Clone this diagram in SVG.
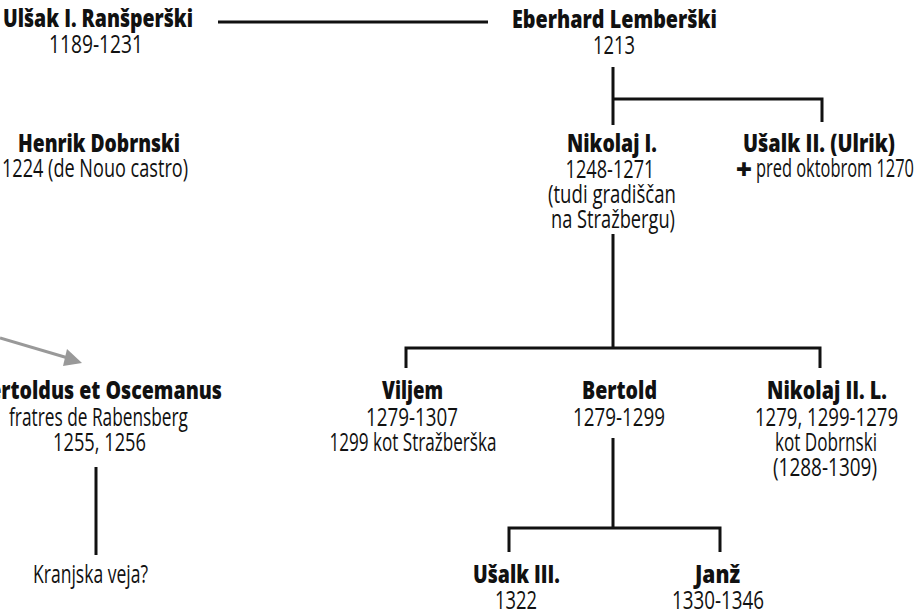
<svg xmlns="http://www.w3.org/2000/svg" width="920" height="614" viewBox="0 0 920 614">
<style>
text{font-family:"Open Sans","Liberation Sans",sans-serif;fill:#111;text-anchor:middle;font-size:25px}
.b{font-weight:800}
.ln{stroke:#111;stroke-width:3;fill:none}
.ar{stroke:#999;stroke-width:3;fill:none}
</style>
<rect width="920" height="614" fill="#fff"/>
<g id="connectors">
<line class="ln" x1="218" y1="22" x2="488" y2="22"/>
<path class="ln" d="M613 67V125M613 99H822V122"/>
<path class="ln" d="M613 234V348M406 368V348H820V368"/>
<path class="ln" d="M613 438V528M509 552V528H720V552"/>
<line class="ln" x1="96" y1="467" x2="96" y2="555"/>
<line class="ar" x1="0" y1="338" x2="68" y2="358"/>
<polygon points="82,363 67,349 63,366" fill="#999"/>
</g>
<g id="ulsak1"><text><tspan class="b" x="98" y="27" textLength="190" lengthAdjust="spacingAndGlyphs">Ulšak I. Ranšperški</tspan><tspan x="96" y="53" textLength="94" lengthAdjust="spacingAndGlyphs">1189-1231</tspan></text></g>
<g id="eberhard"><text><tspan class="b" x="614.5" y="28" textLength="205" lengthAdjust="spacingAndGlyphs">Eberhard Lemberški</tspan><tspan x="614" y="54" textLength="42" lengthAdjust="spacingAndGlyphs">1213</tspan></text></g>
<g id="henrik"><text><tspan class="b" x="99" y="152" textLength="162" lengthAdjust="spacingAndGlyphs">Henrik Dobrnski</tspan><tspan x="95" y="177" textLength="186" lengthAdjust="spacingAndGlyphs">1224 (de Nouo castro)</tspan></text></g>
<g id="nikolaj1"><text><tspan class="b" x="612" y="152" textLength="90" lengthAdjust="spacingAndGlyphs">Nikolaj I.</tspan><tspan x="610" y="178" textLength="89" lengthAdjust="spacingAndGlyphs">1248-1271</tspan><tspan x="612" y="203" textLength="128" lengthAdjust="spacingAndGlyphs">(tudi gradiščan</tspan><tspan x="613" y="228" textLength="124" lengthAdjust="spacingAndGlyphs">na Stražbergu)</tspan></text></g>
<g id="usalk2"><text><tspan class="b" x="819" y="152" textLength="152" lengthAdjust="spacingAndGlyphs">Ušalk II. (Ulrik)</tspan><tspan class="b" x="744" y="179" style="font-size:28px">+</tspan><tspan x="835" y="177" textLength="158" lengthAdjust="spacingAndGlyphs">pred oktobrom 1270</tspan></text></g>
<g id="bertoldus"><text><tspan class="b" x="99" y="399" textLength="246" lengthAdjust="spacingAndGlyphs">Bertoldus et Oscemanus</tspan><tspan x="98.5" y="426" textLength="179" lengthAdjust="spacingAndGlyphs">fratres de Rabensberg</tspan><tspan x="99.5" y="451" textLength="93" lengthAdjust="spacingAndGlyphs">1255, 1256</tspan></text></g>
<g id="kranjska"><text x="90.5" y="583" textLength="115" lengthAdjust="spacingAndGlyphs">Kranjska veja?</text></g>
<g id="viljem"><text><tspan class="b" x="412.5" y="399" textLength="61" lengthAdjust="spacingAndGlyphs">Viljem</tspan><tspan x="412" y="426" textLength="92" lengthAdjust="spacingAndGlyphs">1279-1307</tspan><tspan x="413" y="451" textLength="167" lengthAdjust="spacingAndGlyphs">1299 kot Stražberška</tspan></text></g>
<g id="bertold"><text><tspan class="b" x="619.5" y="399" textLength="75" lengthAdjust="spacingAndGlyphs">Bertold</tspan><tspan x="619" y="426" textLength="92" lengthAdjust="spacingAndGlyphs">1279-1299</tspan></text></g>
<g id="nikolaj2"><text><tspan class="b" x="827" y="399" textLength="120" lengthAdjust="spacingAndGlyphs">Nikolaj II. L.</tspan><tspan x="826.5" y="426" textLength="143" lengthAdjust="spacingAndGlyphs">1279, 1299-1279</tspan><tspan x="826" y="451" textLength="102" lengthAdjust="spacingAndGlyphs">kot Dobrnski</tspan><tspan x="825" y="476" textLength="104" lengthAdjust="spacingAndGlyphs">(1288-1309)</tspan></text></g>
<g id="usalk3"><text><tspan class="b" x="516.5" y="583" textLength="87" lengthAdjust="spacingAndGlyphs">Ušalk III.</tspan><tspan x="516" y="609" textLength="42" lengthAdjust="spacingAndGlyphs">1322</tspan></text></g>
<g id="janz"><text><tspan class="b" x="717.5" y="583" textLength="45" lengthAdjust="spacingAndGlyphs">Janž</tspan><tspan x="718" y="609" textLength="92" lengthAdjust="spacingAndGlyphs">1330-1346</tspan></text></g>
</svg>
